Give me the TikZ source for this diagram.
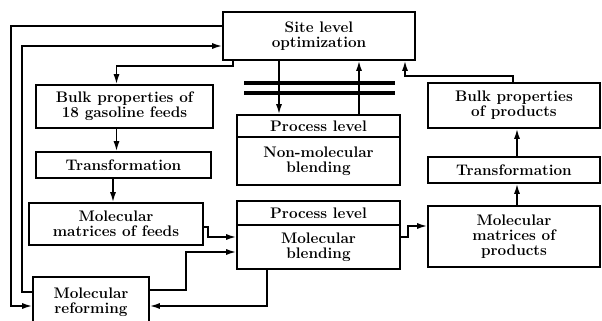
\documentclass[tikz,border=0pt]{standalone}
\usetikzlibrary{arrows.meta}
\begin{document}
\begin{tikzpicture}[x=1pt,y=-1pt,
  box/.style={draw,line width=1.6pt,inner sep=0pt,align=center,
    font=\fontsize{15.3}{15}\selectfont\bfseries},
  arr/.style={line width=1.6pt,-{Latex[length=10pt,width=6pt]}}]
\clip (0,0) rectangle (602,321);
\useasboundingbox (0,0) rectangle (602,321);

% left column
\node[box,minimum width=192pt,minimum height=48pt] (site) at (319,36) {Site level\\optimization};
\node[box,minimum width=177pt,minimum height=43pt] (feeds) at (124.5,106.5) {Bulk properties of\\18 gasoline feeds};
\node[box,minimum width=175pt,minimum height=26pt] (transL) at (123.5,165) {Transformation};
\node[box,minimum width=174pt,minimum height=42pt] (molfeeds) at (116,224) {Molecular\\matrices of feeds};
\node[box,minimum width=116pt,minimum height=50pt] (reform) at (91,302) {Molecular\\reforming};

% process level boxes
\node[box,minimum width=163pt,minimum height=22pt] (pnonh) at (318.5,126) {Process level};
\node[box,minimum width=163pt,minimum height=48pt] (pnonb) at (318.5,161) {Non-molecular\\blending};
\node[box,minimum width=163pt,minimum height=24pt] (pmolh) at (318.5,213) {Process level};
\node[box,minimum width=163pt,minimum height=44pt] (pmolb) at (318.5,247) {Molecular\\blending};

% right column
\node[box,minimum width=172pt,minimum height=45pt] (bulkprod) at (514,105.5) {Bulk properties\\of products};
\node[box,minimum width=172pt,minimum height=26pt] (transR) at (514,170) {Transformation};
\node[box,minimum width=172pt,minimum height=61pt] (molprod) at (514,236.5) {Molecular\\matrices of\\products};

% separator bars
\draw[line width=4.5pt] (244,83) -- (395,83);
\draw[line width=4.5pt] (244,93) -- (395,93);

% connectors
\draw[arr] ([yshift=10pt]site.west) -| (11,306) -- ([yshift=-4pt]reform.west);
\draw[arr] ([yshift=10pt]reform.west) -| (22,46) -- ([yshift=-10pt]site.west);
\draw[arr] ([xshift=11pt]site.south west) -- ++(0,5) -| ([xshift=-8pt]feeds.north);
\draw[arr] ([xshift=-8pt]feeds.south) -- ([xshift=-8pt]feeds.south |- transL.north);
\draw[arr] ([xshift=-10.5pt]transL.south) -- ([xshift=-10.5pt]transL.south |- molfeeds.north);
\draw[arr] ([yshift=-3pt]molfeeds.east) -- ++(4,0) |- ([yshift=10pt]pmolb.west);
\draw[arr] ([yshift=12pt]reform.east) -- ++(36,0) |- ([yshift=-5pt]pmolb.west);
\draw[arr] ([xshift=-51.5pt]pmolb.south) |- ([yshift=-4pt]reform.east);
\draw[arr] ([yshift=10pt]pmolb.east) -- ++(7,0) |- ([yshift=10.5pt]molprod.west);
\draw[arr] ([xshift=3pt]molprod.north) -- ([xshift=3pt]molprod.north |- transR.south);
\draw[arr] ([xshift=3pt]transR.north) -- ([xshift=3pt]transR.north |- bulkprod.south);
\draw[arr] ([xshift=-1pt]bulkprod.north) -- ++(0,-6) -| ([xshift=86pt]site.south);
\draw[arr] ([xshift=-40pt]site.south) -- ([xshift=-40pt]site.south |- pnonh.north);
\draw[arr] ([xshift=40pt]site.south |- pnonh.north) -- ([xshift=40pt]site.south);
\end{tikzpicture}
\end{document}
